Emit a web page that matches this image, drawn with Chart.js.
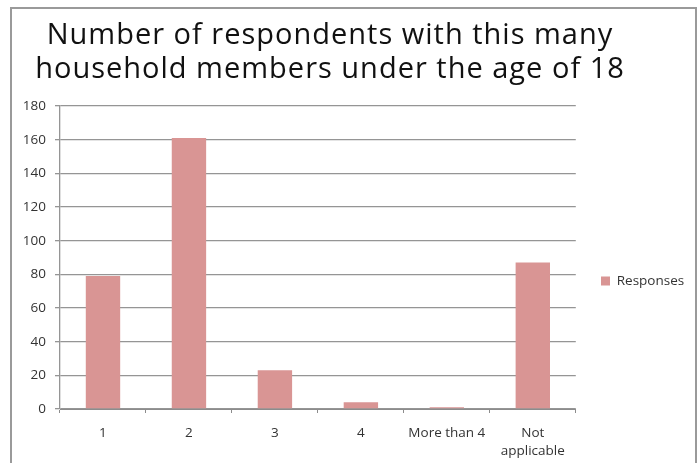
<!DOCTYPE html>
<html>
<head>
<meta charset="utf-8">
<script src="https://cdn.jsdelivr.net/npm/chart.js@4"></script>
<style>
  html, body { margin: 0; padding: 0; background: #fff; overflow: hidden; }
  .wrap { position: relative; width: 700px; height: 463px; }
  .frame { position: absolute; left: 10px; top: 7px; width: 683px; height: 470px;
           border: 2px solid #9a9a9a; pointer-events: none; }
</style>
</head>
<body>
<div class="wrap">
  <canvas id="myChart" width="700" height="463"></canvas>
  <div class="frame"></div>
</div>
<script>
const titleLines = ['Number of respondents with this many', 'household members under the age of 18'];
const categories = ['1', '2', '3', '4', 'More than 4', ['Not', 'applicable']];
const responses = [79, 161, 23, 4, 1, 87];
const seriesName = 'Responses';

// title drawn by hand so it can sit over the plot with a bit of letter spacing
const chartTitle = {
    id: 'chartTitle',
    beforeDraw(chart) {
        // move the legend down and right, like the original sheet
        const lg = chart.legend;
        const h = lg.bottom - lg.top;
        const w = lg.right - lg.left;
        lg.top = 281 - h / 2;
        lg.bottom = lg.top + h;
        lg.left = 591;
        lg.right = lg.left + w;
    },
    afterDraw(chart) {
        const ctx = chart.ctx;
        ctx.save();
        ctx.font = '400 29px "Open Sans"';
        ctx.fillStyle = '#111';
        ctx.textAlign = 'center';
        ctx.textBaseline = 'alphabetic';
        ctx.letterSpacing = '1px';
        ctx.fillText(titleLines[0], 330, 44);
        ctx.fillText(titleLines[1], 330, 78);
        ctx.restore();
    }
};

const data = {
    labels: categories,
    datasets: [{
        label: seriesName,
        backgroundColor: '#d99594',
        data: responses,
        barPercentage: 0.4,
        categoryPercentage: 1.0
    }]
};

const config = {
    type: 'bar',
    data: data,
    plugins: [chartTitle],
    options: {
        responsive: false,
        animation: false,
        layout: { padding: { left: 11, right: 21, top: 106, bottom: 0 } },
        plugins: {
            title: { display: false },
            legend: {
                position: 'right',
                labels: {
                    boxWidth: 9,
                    boxHeight: 9,
                    color: '#333',
                    font: { family: 'Open Sans', size: 13.5 },
                    padding: 10
                }
            },
            tooltip: { enabled: false }
        },
        scales: {
            x: {
                grid: { drawOnChartArea: false, drawTicks: true, tickLength: 4, color: '#8c8c8c' },
                border: { color: '#8c8c8c', width: 1 },
                ticks: { color: '#333', font: { family: 'Open Sans', size: 13.5, lineHeight: 1.35 }, padding: 11, maxRotation: 0 },
                afterFit(scale) { scale.height = 54; }
            },
            y: {
                min: 0,
                max: 180,
                ticks: { stepSize: 20, color: '#333', font: { family: 'Open Sans', size: 13.5 }, padding: 9 },
                grid: { color: '#959595', lineWidth: 1.3, tickLength: 5 },
                border: { color: '#959595', width: 1.3 },
                afterFit(scale) { scale.width = 49; }
            }
        }
    }
};

const myChart = new Chart(document.getElementById('myChart'), config);
</script>
</body>
</html>
